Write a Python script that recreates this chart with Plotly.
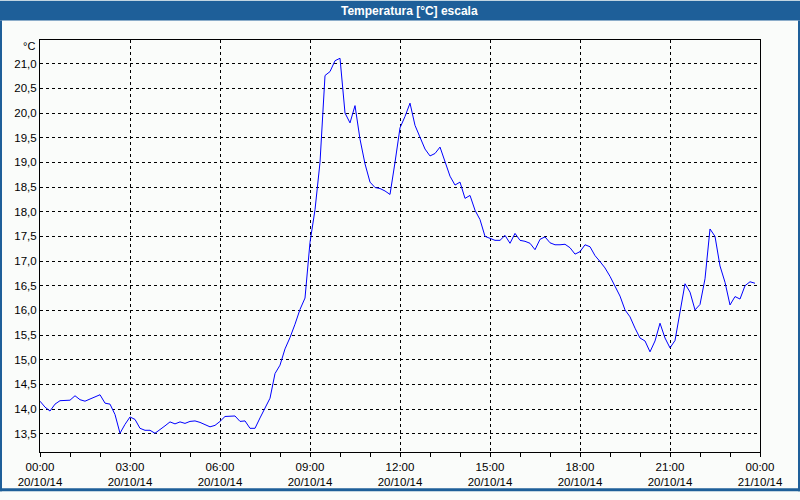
import plotly.graph_objects as go
import pandas as pd

# ---- data (10-minute readings, 20/10/14) ----
start_time = "2014-10-20 00:00"
n_points = 144
temps = [
    14.16, 14.04, 13.96, 14.10, 14.17, 14.18,   # 00h
    14.18, 14.27, 14.19, 14.16, 14.20, 14.25,   # 01h
    14.29, 14.12, 14.10, 13.89, 13.51, 13.69,   # 02h
    13.84, 13.79, 13.61, 13.57, 13.57, 13.51,   # 03h
    13.58, 13.66, 13.74, 13.70, 13.74, 13.71,   # 04h
    13.75, 13.76, 13.73, 13.69, 13.64, 13.67,   # 05h
    13.75, 13.85, 13.85, 13.86, 13.75, 13.76,   # 06h
    13.61, 13.61, 13.82, 14.02, 14.22, 14.72,   # 07h
    14.89, 15.22, 15.45, 15.72, 16.02, 16.25,   # 08h
    17.38, 18.04, 19.00, 20.76, 20.84, 21.06,   # 09h
    21.11, 20.00, 19.80, 20.15, 19.47, 18.97,   # 10h
    18.60, 18.49, 18.47, 18.42, 18.35, 19.00,   # 11h
    19.70, 19.93, 20.20, 19.75, 19.50, 19.27,   # 12h
    19.13, 19.18, 19.31, 19.00, 18.72, 18.54,   # 13h
    18.60, 18.27, 18.33, 18.03, 17.84, 17.50,   # 14h
    17.46, 17.42, 17.42, 17.52, 17.36, 17.56,   # 15h
    17.42, 17.40, 17.36, 17.23, 17.44, 17.49,   # 16h
    17.37, 17.33, 17.33, 17.34, 17.27, 17.14,   # 17h
    17.19, 17.33, 17.29, 17.11, 16.99, 16.86,   # 18h
    16.69, 16.50, 16.29, 16.01, 15.87, 15.64,   # 19h
    15.44, 15.38, 15.16, 15.38, 15.74, 15.44,   # 20h
    15.24, 15.39, 15.97, 16.54, 16.37, 16.01,   # 21h
    16.12, 16.64, 17.65, 17.50, 16.90, 16.57,   # 22h
    16.11, 16.28, 16.23, 16.50, 16.58, 16.55,   # 23h
]
y_ticks = [13.5, 14.0, 14.5, 15.0, 15.5, 16.0, 16.5, 17.0, 17.5,
           18.0, 18.5, 19.0, 19.5, 20.0, 20.5, 21.0]
x_range = ["2014-10-20 00:00", "2014-10-21 00:00"]
y_range = [13.13, 21.48]
title_text = "Temperatura [°C] escala"
unit_text = "°C"

times = pd.date_range(start_time, periods=n_points, freq="10min")

W, H = 800, 500
ML, MR, MT, MB = 40, 40, 40, 40
PW, PH = W - ML - MR, H - MT - MB


def px_x(x):
    return (x - ML) / PW


def px_y(y):
    return (H - MB - y) / PH


BLUE = "#1e5f99"
BG = "#fafcfa"
FONT = "Liberation Sans"

fig = go.Figure()
fig.add_trace(go.Scatter(
    x=times, y=temps, mode="lines",
    line=dict(color="#0000ff", width=1),
    hoverinfo="x+y", showlegend=False,
))

fig.update_layout(
    width=W, height=H, autosize=False,
    margin=dict(l=ML, r=MR, t=MT, b=MB, pad=0),
    paper_bgcolor=BG, plot_bgcolor=BG,
    separators=",.",
    font=dict(family=FONT, size=11.5, color="#000000"),
    showlegend=False,
)

fig.update_xaxes(
    type="date", range=x_range,
    dtick=3 * 3600 * 1000, tick0="2014-10-20 00:00",
    tickformat="%H:%M<br>%d/%m/%y",
    ticks="outside", ticklen=4, tickcolor="#000000", tickwidth=1,
    minor=dict(dtick=3600 * 1000, ticks="outside", ticklen=4,
               tickcolor="#000000", showgrid=False),
    showgrid=True, gridcolor="#000000", gridwidth=1, griddash="3px,3px",
    showline=True, linecolor="#000000", linewidth=1, mirror=True,
    zeroline=False, fixedrange=True,
)

fig.update_yaxes(
    range=y_range, tickvals=y_ticks, tickformat=".1f",
    ticks="", showgrid=True, gridcolor="#000000", gridwidth=1,
    griddash="3px,3px",
    showline=True, linecolor="#000000", linewidth=1, mirror=True,
    zeroline=False, fixedrange=True,
)

# title bar and window frame
fig.add_shape(type="rect", xref="paper", yref="paper",
              x0=px_x(0), x1=px_x(W), y0=px_y(20), y1=px_y(0),
              fillcolor=BLUE, line=dict(width=0), layer="above")
fig.add_shape(type="rect", xref="paper", yref="paper",
              x0=px_x(0), x1=px_x(2), y0=px_y(H), y1=px_y(20),
              fillcolor=BLUE, line=dict(width=0), layer="above")
fig.add_shape(type="rect", xref="paper", yref="paper",
              x0=px_x(W - 2), x1=px_x(W), y0=px_y(H), y1=px_y(20),
              fillcolor=BLUE, line=dict(width=0), layer="above")
fig.add_shape(type="rect", xref="paper", yref="paper",
              x0=px_x(0), x1=px_x(W), y0=px_y(H), y1=px_y(H - 3),
              fillcolor=BLUE, line=dict(width=0), layer="above")

fig.add_annotation(text="<b>" + title_text + "</b>", xref="paper", yref="paper",
                   x=px_x(410), y=px_y(10), xanchor="center", yanchor="middle",
                   showarrow=False, font=dict(family=FONT, size=12, color="#ffffff"))
fig.add_annotation(text=unit_text, xref="paper", yref="paper",
                   x=px_x(37), y=px_y(46), xanchor="right", yanchor="middle",
                   showarrow=False, font=dict(family=FONT, size=11, color="#000000"))

page_fix = """
document.documentElement.style.margin = '0';
document.documentElement.style.padding = '0';
document.documentElement.style.overflow = 'hidden';
document.body.style.margin = '0';
document.body.style.padding = '0';
document.body.style.overflow = 'hidden';
"""
fig.write_html("out.html", post_script=page_fix)
